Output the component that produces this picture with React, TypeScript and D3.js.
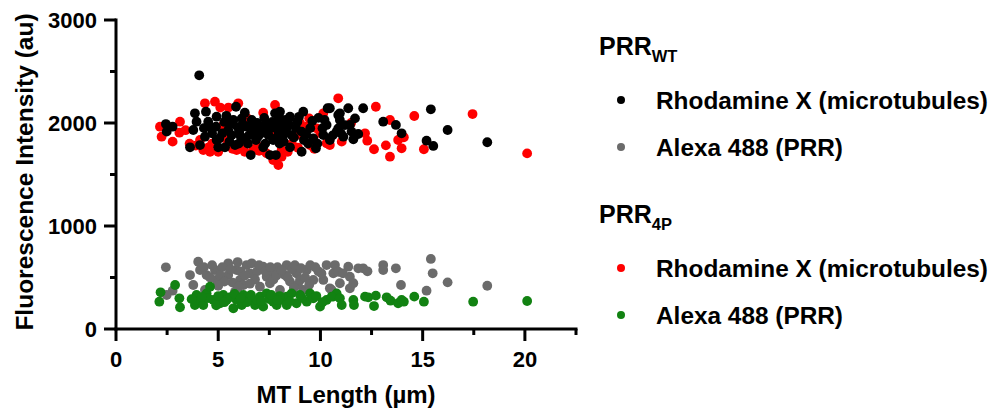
import React from "react";
import * as d3 from "d3";

const wtRhodamine: [number, number][] = [
  [2.44,1990],[2.48,1916],[2.77,1964],[3.86,2094],[3.94,2013],[3.78,1932],[3.62,1764],[4.11,1786],[4.07,2463],[4.40,2110],
  [4.35,1867],[4.51,2013],[4.92,2061],[4.89,1964],[4.92,1835],[5.0,1764],[5.33,1764],[5.49,1932],[5.66,1883],[5.74,2029],
  [5.87,2158],[5.82,1786],[6.03,1916],[6.15,2045],[6.23,1851],[6.39,1964],[6.59,1689],[6.64,2029],[6.75,1916],[6.85,1835],
  [7.04,1964],[7.20,1764],[7.37,1997],[7.45,1883],[7.53,1689],[7.69,1835],[7.78,2094],[7.86,1964],[7.82,1689],[8.02,2110],
  [8.10,1997],[8.18,1883],[8.35,1948],[8.51,2061],[8.59,1883],[8.51,1764],[8.87,2013],[9.08,1721],[9.16,2110],[9.08,1916],
  [9.19,1835],[9.65,1851],[9.78,1754],[10.14,1883],[10.30,1981],[10.35,2143],[10.46,1835],[10.87,2078],[10.87,1948],[10.46,2143],
  [10.95,2094],[11.36,2143],[12.09,2143],[10.95,2029],[11.69,2045],[11.44,1981],[10.79,1916],[11.12,1867],[11.52,1916],[11.85,1893],
  [11.61,1842],[13.07,2013],[13.69,1981],[13.97,1900],[15.19,1828],[15.52,1777],[15.40,2133],[16.22,1932],[18.16,1813],
  [5.2,1900],[5.6,1990],[6.0,1800],[6.5,1880],[6.9,2000],[7.1,1900],[7.6,1950],[8.0,1800],[8.3,2030],[5.4,2070],
  [6.3,2100],[7.3,1800],[8.8,1950],[9.5,1950],[9.9,2050],[4.7,1900],[10.6,1880],[11.2,1980],
  [5.05,1850],[5.3,2010],[5.55,1820],[5.95,1960],[6.2,1990],[6.45,1800],[6.7,1960],[6.95,1870],[7.25,2050],[7.4,1930],
  [7.65,2010],[7.95,1920],[8.2,1820],[8.45,1990],[8.7,1860],[8.95,2060],[9.3,1890],[9.6,2020],[9.85,1800],[10.1,1950],
  [4.6,1960],[4.3,1950],[6.1,1870],[7.9,1870],[8.0,2050],[9.4,1800],[10.2,2030],[11.0,1900]
];

const wtAlexa: [number, number][] = [
  [2.44,599],[2.77,372],[2.48,330],[3.62,524],[3.78,427],[4.02,653],[4.11,573],[4.35,379],[4.43,524],[4.84,573],
  [4.92,476],[5.49,638],[5.49,524],[5.82,362],[5.90,573],[6.06,476],[6.39,621],[6.55,541],[6.64,638],[6.23,427],
  [7.20,605],[7.37,508],[7.53,444],[7.69,556],[8.02,379],[8.35,621],[8.26,524],[8.51,460],[8.83,541],[9.16,379],
  [9.33,573],[9.65,476],[10.30,621],[10.46,395],[10.63,541],[10.14,476],[4.6,500],[7.04,411],[9.0,476],[10.71,621],
  [10.87,556],[11.36,605],[11.85,589],[12.09,589],[11.44,508],[11.61,444],[11.44,395],[10.95,444],[10.55,379],[13.07,621],
  [13.07,573],[13.69,589],[13.94,427],[15.19,372],[15.40,680],[15.49,541],[16.22,453],[18.16,420],
  [5.2,600],[5.7,450],[6.9,560],[7.9,600],[8.6,580],[9.5,620],[6.1,560],[7.7,480],[8.9,430],[5.1,520],
  [9.9,560],[11.1,540],[12.3,560],
  [4.3,600],[4.7,620],[5.3,460],[5.6,580],[5.95,650],[6.3,520],[6.8,480],[7.0,620],[7.3,560],[7.55,600],
  [7.85,520],[8.1,570],[8.4,500],[8.75,620],[9.05,590],[9.25,500],[9.75,600],[10.05,540],[6.0,410],[8.7,400],
  [5.0,420],[6.55,440],[9.45,430]
];

const p4Rhodamine: [number, number][] = [
  [2.15,1964],[2.23,1867],[2.77,1819],[3.13,2013],[3.10,1906],[4.35,2191],[4.84,2207],[5.98,2191],[4.11,1835],[4.27,1738],
  [4.60,1721],[5.0,1721],[5.25,1981],[5.33,1851],[5.90,1738],[6.72,1738],[7.37,1705],[7.78,2175],[7.94,1592],[8.10,1673],
  [7.69,1641],[8.10,1738],[9.45,2045],[9.33,1964],[9.81,1948],[10.14,2094],[10.30,1803],[10.87,2240],[9.49,1786],[8.83,1883],
  [12.71,2158],[12.18,1900],[12.29,1828],[12.62,1745],[13.20,1783],[13.40,1673],[13.40,2029],[13.80,1835],[14.08,1861],[13.97,1754],
  [14.59,2068],[15.06,1745],[17.44,2087],[20.11,1705],[11.04,1819],[10.46,1786],
  [3.9,1780],[4.7,1800],[5.5,2150],[6.1,1760],[6.9,1780],[7.5,1900],[8.6,1800],[9.0,2000],[10.0,1900],[11.5,2000],
  [6.4,2050],[5.1,2150],[4.5,1760],[5.7,1750],[6.3,1720],[7.0,1730],[7.2,2100],[8.4,1720],[8.9,1760],[9.7,1750],
  [3.6,1800],[3.4,1930]
];

const p4Alexa: [number, number][] = [
  [2.12,265],[2.18,356],[2.89,427],[3.10,298],[3.13,211],[3.86,233],[3.94,330],[4.11,282],[4.27,233],[4.43,346],
  [4.60,411],[4.76,282],[5.09,250],[5.25,330],[5.41,282],[5.74,201],[5.90,282],[6.15,233],[6.23,330],[6.55,298],
  [6.80,233],[7.04,314],[7.20,217],[7.37,346],[7.69,265],[7.86,233],[8.10,282],[8.35,314],[8.59,346],[8.83,250],
  [9.33,265],[9.49,346],[9.65,298],[9.98,217],[10.30,282],[10.63,314],[10.79,346],[8.35,233],[10.55,314],[10.95,298],
  [11.04,233],[11.61,282],[11.64,233],[12.18,314],[12.34,308],[12.71,324],[12.62,223],[13.24,308],[13.43,275],[13.80,250],
  [13.97,282],[14.08,265],[14.59,314],[15.06,265],[17.47,265],[20.11,272],
  [4.5,300],[5.6,310],[6.4,260],[7.5,290],[8.0,320],[9.1,300],[5.0,320],[6.9,280],
  [4.2,310],[4.9,230],[5.3,260],[5.8,340],[6.1,300],[6.6,330],[7.1,270],[7.6,330],[7.9,280],[8.5,270],
  [9.0,330],[9.8,320],[10.1,260],[3.7,290]
];

const xMajorTicks = [0, 5, 10, 15, 20];
const xMinorTicks = [2.5, 7.5, 12.5, 17.5, 22.5];
const yMajorTicks = [0, 1000, 2000, 3000];
const yMinorTicks = [500, 1500, 2500];

const COLORS = { black: "#000000", grey: "#6b6b6b", red: "#ff0000", green: "#128212" };
const FONT = "'Liberation Sans', Arial, Helvetica, sans-serif";

export default function App() {
  const x = d3.scaleLinear().domain([0, 22.5]).range([116, 576]);
  const y = d3.scaleLinear().domain([0, 3000]).range([329, 20]);
  const r = 4.9;

  const series = [
    { data: p4Rhodamine, color: COLORS.red },
    { data: wtRhodamine, color: COLORS.black },
    { data: wtAlexa, color: COLORS.grey },
    { data: p4Alexa, color: COLORS.green },
  ];

  const legendRows = [
    { color: COLORS.black, label: "Rhodamine X (microtubules)", cy: 100, len: 332 },
    { color: COLORS.grey, label: "Alexa 488 (PRR)", cy: 147, len: 187 },
    { color: COLORS.red, label: "Rhodamine X (microtubules)", cy: 268, len: 332 },
    { color: COLORS.green, label: "Alexa 488 (PRR)", cy: 315, len: 187 },
  ];

  return (
    <svg width={995} height={410} style={{ position: "absolute", left: 0, top: 0 }} fontFamily={FONT} fontWeight="bold">
      <rect width={995} height={410} fill="#fff" />
      {series.map((s, i) => (
        <g key={i} fill={s.color}>
          {s.data.map((d, j) => (
            <circle key={j} cx={x(d[0])} cy={y(d[1])} r={r} />
          ))}
        </g>
      ))}
      <g stroke="#000" strokeWidth={3} fill="none">
        <line x1={x(0)} x2={x(0)} y1={y(3000) - 1.5} y2={y(0) + 1.5} />
        <line x1={x(0) - 1.5} x2={x(22.5) + 1.5} y1={y(0)} y2={y(0)} />
        {yMajorTicks.map((t) => (
          <line key={"ym" + t} x1={x(0) - 12} x2={x(0)} y1={y(t)} y2={y(t)} />
        ))}
        {yMinorTicks.map((t) => (
          <line key={"yn" + t} x1={x(0) - 6} x2={x(0)} y1={y(t)} y2={y(t)} />
        ))}
        {xMajorTicks.map((t) => (
          <line key={"xm" + t} x1={x(t)} x2={x(t)} y1={y(0)} y2={y(0) + 12} />
        ))}
        {xMinorTicks.map((t) => (
          <line key={"xn" + t} x1={x(t)} x2={x(t)} y1={y(0)} y2={y(0) + 6} />
        ))}
      </g>
      <g fontSize={22} fill="#000">
        {yMajorTicks.map((t) => (
          <text key={"yl" + t} x={97} y={y(t)} dy="0.36em" textAnchor="end">{t}</text>
        ))}
        {xMajorTicks.map((t) => (
          <text key={"xl" + t} x={x(t)} y={367} textAnchor="middle">{t}</text>
        ))}
      </g>
      <text x={(x(0) + x(22.5)) / 2} y={403} textAnchor="middle" fontSize={24}>MT Length (µm)</text>
      <text transform="translate(33,172) rotate(-90)" textAnchor="middle" fontSize={24.5}>Fluorescence Intensity (au)</text>
      <text x={599} y={55} fontSize={25}>PRR<tspan fontSize={16.5} dy={7}>WT</tspan></text>
      <text x={599} y={223} fontSize={25}>PRR<tspan fontSize={16.5} dy={7}>4P</tspan></text>
      {legendRows.map((row, i) => (
        <g key={"lg" + i}>
          <circle cx={621} cy={row.cy} r={4} fill={row.color} />
          <text x={656} y={row.cy} dy="0.35em" fontSize={24.8} textLength={row.len} lengthAdjust="spacingAndGlyphs">{row.label}</text>
        </g>
      ))}
    </svg>
  );
}
